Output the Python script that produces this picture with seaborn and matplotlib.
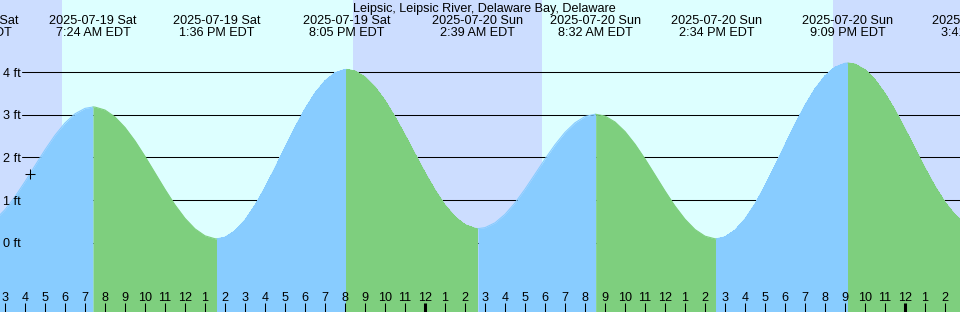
import numpy as np
import pandas as pd
import matplotlib
matplotlib.use("Agg")
import matplotlib.pyplot as plt
import matplotlib.transforms as mtransforms
import seaborn as sns

# ---------------- data (hours counted from 2025-07-19 00:00 EDT) ----------------
title = "Leipsic, Leipsic River, Delaware Bay, Delaware"

sample_hours = np.arange(2.5, 51.01, 0.5)
sample_ft = [
    0.537, 0.773, 1.078, 1.430, 1.804, 2.175, 2.517, 2.806, 3.021, 3.148,
    3.178, 3.109, 2.946, 2.700, 2.385, 2.022, 1.635, 1.248, 0.885, 0.570,
    0.324, 0.161, 0.092, 0.127, 0.276, 0.529, 0.873, 1.288, 1.748, 2.227,
    2.698, 3.132, 3.504, 3.793, 3.981, 4.058, 4.023, 3.883, 3.648, 3.330,
    2.946, 2.520, 2.076, 1.638, 1.233, 0.881, 0.605, 0.420, 0.335, 0.353,
    0.466, 0.664, 0.932, 1.254, 1.605, 1.960, 2.295, 2.586, 2.811, 2.956,
    3.010, 2.967, 2.829, 2.605, 2.309, 1.962, 1.588, 1.211, 0.857, 0.550,
    0.309, 0.153, 0.091, 0.134, 0.291, 0.553, 0.906, 1.330, 1.799, 2.289,
    2.771, 3.217, 3.604, 3.908, 4.112, 4.205, 4.183, 4.051, 3.817, 3.495,
    3.102, 2.663, 2.201, 1.744, 1.318, 0.947, 0.653, 0.452,
]

event_hours = [1.467, 7.40, 13.60, 20.083, 26.65, 32.533, 38.567, 45.15, 51.683]
event_ft = [0.33, 3.18, 0.09, 4.06, 0.33, 3.01, 0.09, 4.21, 0.35]
event_kind = ["low", "high", "low", "high", "low", "high", "low", "high", "low"]
event_dates = ["2025-07-19 Sat", "2025-07-19 Sat", "2025-07-19 Sat", "2025-07-19 Sat",
               "2025-07-20 Sun", "2025-07-20 Sun", "2025-07-20 Sun", "2025-07-20 Sun",
               "2025-07-21 Mon"]
event_times = ["1:28 AM EDT", "7:24 AM EDT", "1:36 PM EDT", "8:05 PM EDT",
               "2:39 AM EDT", "8:32 AM EDT", "2:34 PM EDT", "9:09 PM EDT",
               "3:41 AM EDT"]

sunrise_hours = [5.85, 29.85]
sunset_hours = [20.40, 44.40]

grid_ft = [0, 1, 2, 3, 4]
grid_labels = ["0 ft", "1 ft", "2 ft", "3 ft", "4 ft"]

hour_ticks = list(range(3, 51))
hour_labels = [str(h % 12 or 12) for h in hour_ticks]

now_hour = 4.25
now_ft = 1.62

# ---------------- style ----------------
sns.set_theme(style="white")
plt.rcParams["font.family"] = ["Liberation Sans", "DejaVu Sans"]
FS = 9.07
NIGHT = "#CCDDFF"
DAY = "#DDFFFF"
RISE = "#88CCFF"
FALL = "#7ECF7E"

W, H = 960, 312
fig = plt.figure(figsize=(W / 100, H / 100), dpi=100)
ax = fig.add_axes([0, 0, 1, 1])
x0, x1 = 2.75, 50.75
y0, y1 = -1.624, 5.688
px_per_ft = H / (y1 - y0)

# backgrounds
ax.axvspan(x0 - 5, x1 + 5, color=NIGHT, lw=0, zorder=0)
for r, s in zip(sunrise_hours, sunset_hours):
    ax.axvspan(r, s, color=DAY, lw=0, zorder=0.5)

# grid lines
for g in grid_ft:
    ax.axhline(g, xmin=22 / W, xmax=1, color="black", lw=0.75, zorder=1)

# tide curve, coloured by rising / falling
df = pd.DataFrame({
    "hour": np.concatenate([sample_hours, event_hours]),
    "ft": np.concatenate([sample_ft, event_ft]),
}).sort_values("hour")
for a, b, ka in zip(event_hours[:-1], event_hours[1:], event_kind[:-1]):
    seg = df[(df.hour >= a) & (df.hour <= b)]
    col = RISE if ka == "low" else FALL
    ax.fill_between(seg.hour, seg.ft, y0 - 2, color=col, lw=0, zorder=2,
                    antialiased=False)
    sns.lineplot(data=seg, x="hour", y="ft", color=col, lw=0.8, ax=ax,
                 zorder=2.1, estimator=None)

# current-time marker
ax.plot([now_hour], [now_ft], marker="+", ms=6.5, mew=0.75, color="black",
        ls="none", zorder=5)

trans = mtransforms.blended_transform_factory(ax.transData, ax.transAxes)
asc = 0.358 * FS * 100 / 72  # half cap height in px

# title and event labels
ax.text(484 / W, 1 - (7.3 + asc) / H, title, transform=ax.transAxes,
        ha="center", va="baseline", fontsize=FS, color="black", zorder=6)
for h, d, t in zip(event_hours, event_dates, event_times):
    ax.text(h, 1 - (19.3 + asc) / H, d, transform=trans, ha="center",
            va="baseline", fontsize=FS, color="black", clip_on=False, zorder=6)
    ax.text(h, 1 - (31.7 + asc) / H, t, transform=trans, ha="center",
            va="baseline", fontsize=FS, color="black", clip_on=False, zorder=6)

# y labels
for g, lab in zip(grid_ft, grid_labels):
    ax.text(3 / W, g - asc / px_per_ft, lab, transform=mtransforms.blended_transform_factory(ax.transAxes, ax.transData),
            ha="left", va="baseline", fontsize=FS, color="black", zorder=6)

# hour ticks and labels
widths = [2.2 if h % 24 == 0 else 0.75 for h in hour_ticks]
ax.vlines(hour_ticks, 0, 9 / H, transform=trans, colors="black",
          linewidths=widths, zorder=6)
for h, lab in zip(hour_ticks, hour_labels):
    ax.text(h, (H - 296.7 - asc) / H, lab, transform=trans, ha="center",
            va="baseline", fontsize=FS, color="black", zorder=6)

ax.set_xlim(x0, x1)
ax.set_ylim(y0, y1)
ax.set_axis_off()
fig.savefig("out.png", dpi=100)
